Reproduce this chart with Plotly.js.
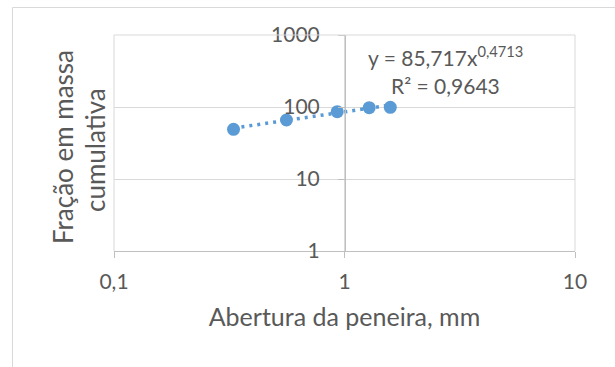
<!DOCTYPE html>
<html>
<head>
<meta charset="utf-8">
<script src="https://cdn.plot.ly/plotly-3.0.1.min.js"></script>
<style>
html,body{margin:0;padding:0;background:#fff;}
#chart{width:615px;height:367px;}
</style>
</head>
<body>
<div id="chart"></div>
<script>
// Data
const aberturaMm = [0.33, 0.56, 0.93, 1.28, 1.58];
const fracaoCumulativa = [49, 66, 86, 98, 99];
// Power trendline reported by the chart: y = a * x^b
const trendA = 85.717;
const trendB = 0.4713;
const trendR2Text = '0,9643';
const xTickVals = [0.1, 1, 10];
const xTickText = ['0,1', '1', '10'];
const yTickVals = [1, 10, 100, 1000];
const yTickText = ['1', '10', '100', '1000'];

const xMin = Math.min(...aberturaMm), xMax = Math.max(...aberturaMm);
const trendX = [xMin, xMax];
const trendY = trendX.map(x => trendA * Math.pow(x, trendB));

const blue = '#5B9BD5';
const textGray = '#595959';
const grid = '#D9D9D9';
const font = 'Lato, "Open Sans", sans-serif';

const W = 461, H = 216, L = 114, T = 35;
const px = x => (x - L) / W;
const py = y => (T + H - y) / H;

const traces = [
  {
    x: trendX, y: trendY, type: 'scatter', mode: 'lines',
    line: {color: blue, width: 3.5, dash: '3px,5px'},
    hoverinfo: 'skip', showlegend: false
  },
  {
    x: aberturaMm, y: fracaoCumulativa, type: 'scatter', mode: 'markers',
    marker: {color: blue, size: 13, line: {width: 0}},
    showlegend: false
  }
];

const layout = {
  width: 615, height: 367,
  margin: {l: L, r: 615 - L - W, t: T, b: 367 - T - H},
  paper_bgcolor: '#fff', plot_bgcolor: '#fff',
  separators: ',.',
  font: {family: font, color: textGray, size: 21},
  showlegend: false,
  xaxis: {
    type: 'log', range: [-1, 1],
    tickvals: xTickVals, ticktext: xTickText,
    showgrid: true, gridcolor: grid, gridwidth: 1,
    showline: true, linecolor: '#BFBFBF', linewidth: 1,
    ticks: 'outside', ticklen: 6, tickcolor: '#BFBFBF',
    ticklabelstandoff: 6,
    tickfont: {size: 21, color: textGray},
    zeroline: false, mirror: false,
    title: {text: 'Abertura da peneira, mm', font: {size: 25, color: textGray}, standoff: 16}
  },
  yaxis: {
    type: 'log', range: [0, 3],
    tickvals: yTickVals, ticktext: yTickText,
    anchor: 'free', position: (345 - L) / W,
    showgrid: true, gridcolor: grid, gridwidth: 1,
    showline: true, linecolor: '#BFBFBF', linewidth: 1,
    ticks: 'outside', ticklen: 7, tickcolor: '#BFBFBF',
    ticklabelstandoff: 14,
    tickfont: {size: 21, color: textGray},
    zeroline: false
  },
  shapes: [
    {type: 'line', xref: 'paper', yref: 'paper', x0: 0, x1: 0, y0: 0, y1: 1, line: {color: grid, width: 1}},
    {type: 'line', xref: 'paper', yref: 'paper', x0: 1, x1: 1, y0: 0, y1: 1, line: {color: grid, width: 1}},
    {type: 'line', xref: 'paper', yref: 'paper', x0: 0, x1: 1, y0: 1, y1: 1, line: {color: grid, width: 1}},
    // outer chart-area border (extends beyond the right and bottom edges)
    {type: 'rect', xref: 'paper', yref: 'paper',
     x0: px(12.5), x1: px(640), y0: py(380), y1: py(7.5),
     line: {color: '#D9D9D9', width: 1}, fillcolor: 'rgba(0,0,0,0)', layer: 'below'}
  ],
  annotations: [
    {xref: 'paper', yref: 'paper', x: px(63), y: py(147),
     text: 'Fração em massa', textangle: -90, showarrow: false,
     font: {size: 26, color: textGray}, xanchor: 'center', yanchor: 'middle'},
    {xref: 'paper', yref: 'paper', x: px(95), y: py(150),
     text: 'cumulativa', textangle: -90, showarrow: false,
     font: {size: 26, color: textGray}, xanchor: 'center', yanchor: 'middle'},
    {xref: 'paper', yref: 'paper', x: px(445), y: py(56),
     text: 'y = 85,717x<sup>0,4713</sup>', showarrow: false,
     font: {size: 21, color: textGray}, xanchor: 'center', yanchor: 'middle'},
    {xref: 'paper', yref: 'paper', x: px(445), y: py(85),
     text: 'R² = ' + trendR2Text, showarrow: false,
     font: {size: 21, color: textGray}, xanchor: 'center', yanchor: 'middle'}
  ]
};

Plotly.newPlot('chart', traces, layout, {displayModeBar: false, staticPlot: true});
</script>
</body>
</html>
